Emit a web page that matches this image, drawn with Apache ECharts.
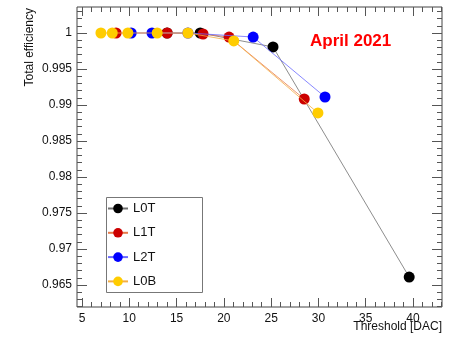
<!DOCTYPE html>
<html><head><meta charset="utf-8">
<script src="https://cdn.jsdelivr.net/npm/echarts@6/dist/echarts.min.js"></script>
<style>html,body{margin:0;padding:0;background:#fff}#c{width:449px;height:337px}</style>
</head><body><div id="c"></div>
<script>
// Data
const seriesNames = ['L0T', 'L1T', 'L2T', 'L0B'];
const l0tX = [14.0, 17.5, 25.2, 39.6];
const l0tY = [1.0, 1.0, 0.99806, 0.9661];
const l1tX = [8.6, 14.0, 17.8, 20.55, 28.5];
const l1tY = [1.0, 1.0, 0.99986, 0.99944, 0.99083];
const l2tX = [10.2, 12.4, 16.2, 23.1, 30.7];
const l2tY = [1.0, 1.0, 1.0, 0.99944, 0.99111];
const l0bX = [7.0, 8.2, 9.85, 12.95, 16.2, 21.05, 29.95];
const l0bY = [1.0, 1.0, 1.0, 1.0, 1.0, 0.99889, 0.98889];
const xTickLabels = [5, 10, 15, 20, 25, 30, 35, 40];
const yTickLabels = [0.965, 0.97, 0.975, 0.98, 0.985, 0.99, 0.995, 1];

const X_MIN = 4.47, X_MAX = 43.07, Y_MIN = 0.96194, Y_MAX = 1.00361;
const xMinor = []; for (let v = 5; v <= 43; v++) xMinor.push(v);
const yMinor = []; for (let k = 962; k <= 1003; k++) yMinor.push(k / 1000);

const FONT = "'Liberation Sans', Arial, sans-serif";
const markerColors = ['#000000', '#cc0000', '#0000ff', '#ffcc00'];
const lineColors = ['#707070', '#e87a4a', '#6a6aff', '#f4ae44'];
const xs = [l0tX, l1tX, l2tX, l0bX], ys = [l0tY, l1tY, l2tY, l0bY];

function xAx(pos, ticks, len, labels) {
  return {
    type: 'value', min: X_MIN, max: X_MAX, position: pos,
    axisLine: { show: false },
    splitLine: { show: false },
    axisTick: { show: true, inside: true, length: len, customValues: ticks, lineStyle: { color: '#555', width: 1 } },
    axisLabel: labels ? { show: true, customValues: xTickLabels, fontFamily: FONT, fontSize: 12, color: '#111', margin: 6 } : { show: false }
  };
}
function yAx(pos, ticks, len, labels) {
  return {
    type: 'value', min: Y_MIN, max: Y_MAX, position: pos,
    axisLine: { show: false },
    splitLine: { show: false },
    axisTick: { show: true, inside: true, length: len, customValues: ticks, lineStyle: { color: '#555', width: 1 } },
    axisLabel: labels ? { show: true, customValues: yTickLabels, fontFamily: FONT, fontSize: 12, color: '#111', margin: 5,
      formatter: v => String(Math.round(v * 1000) / 1000) } : { show: false }
  };
}

const chart = echarts.init(document.getElementById('c'), null, { renderer: 'canvas' });
chart.setOption({
  animation: false,
  backgroundColor: '#fff',
  grid: { left: 77, right: 7, top: 7, bottom: 30, show: true, borderColor: '#444', borderWidth: 1, backgroundColor: 'transparent' },
  xAxis: [
    xAx('bottom', xTickLabels, 9, true),
    xAx('bottom', xMinor, 5, false),
    xAx('top', xTickLabels, 9, false),
    xAx('top', xMinor, 5, false)
  ],
  yAxis: [
    yAx('left', yTickLabels, 10, true),
    yAx('left', yMinor, 5, false),
    yAx('right', yTickLabels, 10, false),
    yAx('right', yMinor, 5, false)
  ],
  legend: {
    orient: 'vertical', left: 107, top: 202, padding: 0,
    itemWidth: 20, itemHeight: 12, itemGap: 11.3,
    textStyle: { fontFamily: FONT, fontSize: 13, color: '#111' },
    data: seriesNames, z: 10
  },
  graphic: [
    { type: 'rect', z: 5, shape: { x: 106.5, y: 197.5, width: 96, height: 95 }, style: { fill: '#fff', stroke: '#777', lineWidth: 1 } },
    { type: 'text', x: 30, y: 8, rotation: Math.PI / 2, style: { text: 'Total efficiency', font: '12px ' + FONT, fill: '#111', align: 'right', verticalAlign: 'middle' } },
    { type: 'text', x: 442, y: 327, style: { text: 'Threshold [DAC]', font: '12px ' + FONT, fill: '#111', align: 'right', verticalAlign: 'middle' } },
    { type: 'text', x: 310, y: 41, style: { text: 'April 2021', font: 'bold 17px ' + FONT, fill: '#ff0000', align: 'left', verticalAlign: 'middle' } }
  ],
  series: seriesNames.map((n, i) => ({
    name: n, type: 'line', xAxisIndex: 0, yAxisIndex: 0, z: 2 + i,
    data: xs[i].map((x, j) => [x, ys[i][j]]),
    symbol: 'circle', symbolSize: 11, showSymbol: true,
    itemStyle: { color: markerColors[i] },
    lineStyle: { color: lineColors[i], width: 0.8 }
  }))
});
</script></body></html>
